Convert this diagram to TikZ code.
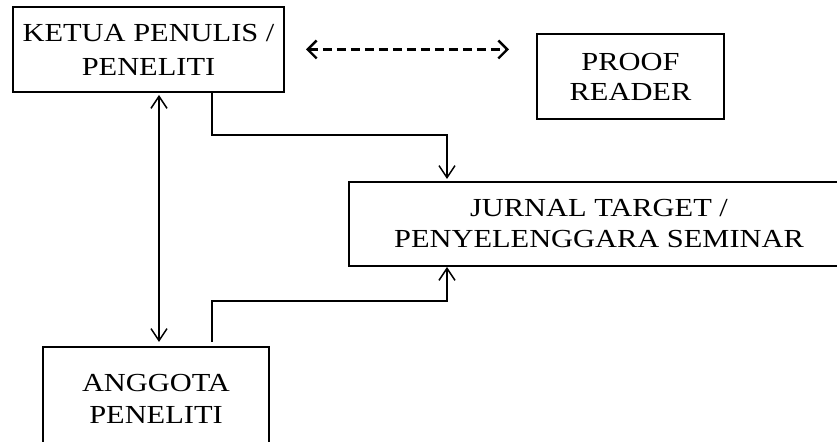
\documentclass[tikz,border=0pt]{standalone}
\usepackage{fontspec}
\setmainfont{Liberation Serif}[FakeStretch=1.17]
\usepackage{tikz}
\usetikzlibrary{arrows.meta}
\tikzset{>={Straight Barb[length=6pt,width=8pt]},
         x=0.5pt, y=-0.5pt,
         box/.style={draw, line width=1pt, align=center, inner sep=0pt,
                     font=\fontsize{13}{#1}\selectfont},
         box/.default=17pt,
         link/.style={line width=0.75pt},
         dashlink/.style={line width=1.2pt, dash pattern=on 4.5pt off 2.5pt,
                          <->, >={Straight Barb[length=4.5pt,width=9pt]}},
         }

\begin{document}
\begin{tikzpicture}
    \useasboundingbox (0,0) rectangle (837,442);
    \clip (0,0) rectangle (837,442);

    \node[box=17pt, minimum width=135.5pt, minimum height=42.5pt] (ketua) at (148.5,49.5) {KETUA PENULIS /\\PENELITI};
    \node[box=15pt, minimum width=93.5pt, minimum height=42.5pt] (proof) at (630.5,76.5) {PROOF\\READER};
    \node[box=15.5pt, minimum width=250pt, minimum height=42pt] (jurnal) at (599,224) {JURNAL TARGET /\\PENYELENGGARA SEMINAR};
    \node[box=16pt, minimum width=113pt, minimum height=52pt] (anggota) at (156,399) {ANGGOTA\\PENELITI};

    \draw[dashlink, shorten <=10.5pt, shorten >=13.5pt] (ketua.east) -- (ketua.east -| proof.west);
    \draw[link, <->, shorten <=1pt, shorten >=2pt] ([xshift=5.25pt]ketua.south) -- ([xshift=5.25pt]ketua.south |- anggota.north);
    \draw[link, ->, shorten >=1pt] ([xshift=31.75pt]ketua.south) -- ++(0,42) -| ([xshift=-76pt]jurnal.north);
    \draw[link, ->, shorten <=2pt] ([xshift=28pt]anggota.north) -- ++(0,-45) -| ([xshift=-76pt]jurnal.south);
\end{tikzpicture}
\end{document}
